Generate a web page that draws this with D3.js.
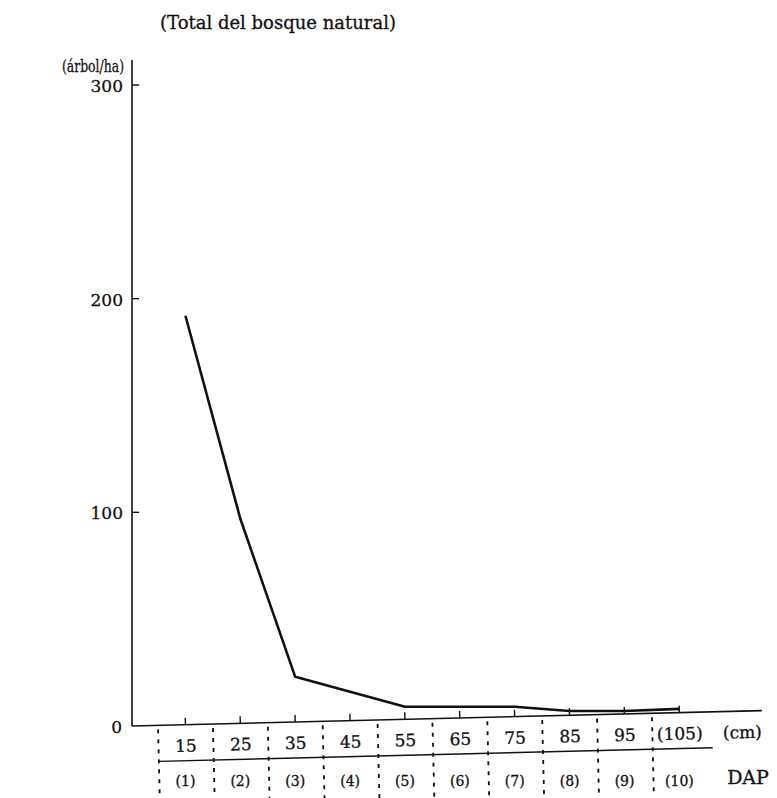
<!DOCTYPE html>
<html>
<head>
<meta charset="utf-8">
<script src="https://cdn.jsdelivr.net/npm/d3@7"></script>
<style>
  body { margin: 0; background: #fff; }
  text { stroke: #111; stroke-width: 0.3px; }
</style>
</head>
<body>
<div id="chart"></div>
<script>
const dap = [15, 25, 35, 45, 55, 65, 75, 85, 95, 105];
const trees = [192, 97, 23, 16, 9, 9, 9, 7, 7, 8];
const classLabels = ['(1)', '(2)', '(3)', '(4)', '(5)', '(6)', '(7)', '(8)', '(9)', '(10)'];
const yTicks = [0, 100, 200, 300];
const bounds = [10, 20, 30, 40, 50, 60, 70, 80, 90, 100];

const width = 777;
const height = 798;
const tilt = -1.4; // the x axis block is drawn slightly askew in the scan
const serif = '"DejaVu Serif", serif';

const svg = d3.select('#chart').append('svg')
    .attr('width', width)
    .attr('height', height)
    .style('font-family', serif)
    .attr('fill', '#111');

const x = d3.scaleLinear().domain([10, 100]).range([158, 652]);
const y = d3.scaleLinear().domain([0, 300]).range([726, 85]);

// title + unit
svg.append('text')
    .attr('x', 160).attr('y', 29)
    .style('font-size', '18px')
    .text('(Total del bosque natural)');
svg.append('text')
    .attr('x', 62).attr('y', 72)
    .attr('textLength', 62)
    .attr('lengthAdjust', 'spacingAndGlyphs')
    .style('font-size', '17px')
    .text('(árbol/ha)');

// y axis
svg.append('line')
    .attr('x1', 132).attr('x2', 132)
    .attr('y1', 60).attr('y2', y(0))
    .attr('stroke', '#111').attr('stroke-width', 1.6);

const yg = svg.append('g');
yg.selectAll('line').data(yTicks.filter(d => d > 0)).join('line')
    .attr('x1', 132).attr('x2', 139)
    .attr('y1', d => y(d)).attr('y2', d => y(d))
    .attr('stroke', '#111').attr('stroke-width', 1.4);
yg.selectAll('text').data(yTicks).join('text')
    .attr('x', d => d === 0 ? 122 : 123)
    .attr('y', d => y(d) + 7)
    .attr('text-anchor', 'end')
    .style('font-size', '17px')
    .text(d => d);

// x axis block (askew)
const xg = svg.append('g')
    .attr('transform', `rotate(${tilt}, 132, ${y(0)})`);

xg.append('line')
    .attr('x1', 132).attr('x2', 762)
    .attr('y1', y(0)).attr('y2', y(0))
    .attr('stroke', '#111').attr('stroke-width', 1.6);

// small up ticks at class centres
xg.selectAll('.tick-up').data(dap).join('line')
    .attr('class', 'tick-up')
    .attr('x1', d => x(d)).attr('x2', d => x(d))
    .attr('y1', y(0)).attr('y2', y(0) - 7)
    .attr('stroke', '#111').attr('stroke-width', 1.4);

// dashed class boundaries
xg.selectAll('.sep').data(bounds).join('line')
    .attr('class', 'sep')
    .attr('x1', d => x(d)).attr('x2', d => x(d))
    .attr('y1', y(0) + 4).attr('y2', height + 10)
    .attr('stroke', '#111').attr('stroke-width', 1.8)
    .attr('stroke-dasharray', '4,6');

// line between the two label rows
xg.append('line')
    .attr('x1', x(10)).attr('x2', 712)
    .attr('y1', y(0) + 36).attr('y2', y(0) + 36)
    .attr('stroke', '#111').attr('stroke-width', 1.4);

xg.selectAll('.dap').data(dap).join('text')
    .attr('class', 'dap')
    .attr('x', d => x(d))
    .attr('y', y(0) + 27)
    .attr('text-anchor', 'middle')
    .style('font-size', '17px')
    .text(d => d === 105 ? '(105)' : d);

xg.append('text')
    .attr('x', 742).attr('y', y(0) + 27)
    .attr('text-anchor', 'middle')
    .style('font-size', '17px')
    .text('(cm)');

// class numbers, level row
svg.selectAll('.cls').data(dap).join('text')
    .attr('class', 'cls')
    .attr('x', d => x(d))
    .attr('y', 786)
    .attr('text-anchor', 'middle')
    .style('font-size', '14px')
    .text((d, i) => classLabels[i]);

svg.append('text')
    .attr('x', 748).attr('y', 784)
    .attr('text-anchor', 'middle')
    .style('font-size', '19px')
    .text('DAP');

// data line
const line = d3.line()
    .x((d, i) => x(dap[i]))
    .y(d => y(d));

svg.append('path')
    .datum(trees)
    .attr('d', line)
    .attr('fill', 'none')
    .attr('stroke', '#111')
    .attr('stroke-width', 2.6)
    .attr('stroke-linejoin', 'round');
</script>
</body>
</html>
